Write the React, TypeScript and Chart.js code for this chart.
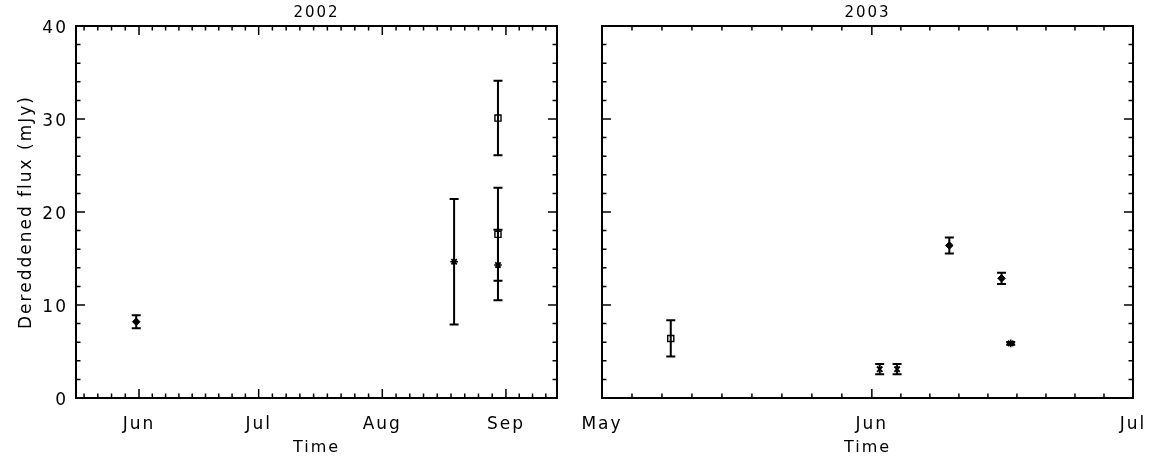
import React, { useEffect, useRef } from 'react';
import { Chart, registerables } from 'chart.js';

Chart.register(...registerables);

const FONT = 'DejaVu Sans';

// Month bookkeeping (day-of-year, 0-based, non-leap years)
const monthNames = ['Jan', 'Feb', 'Mar', 'Apr', 'May', 'Jun', 'Jul', 'Aug', 'Sep', 'Oct', 'Nov', 'Dec'];
const monthStarts = [0, 31, 59, 90, 120, 151, 181, 212, 243, 273, 304, 334, 365];

const yMin = 0;
const yMax = 40;
const yMajorStep = 10;
const yMinorStep = 2;

// ---- 2002 panel ----
const xRange2002 = [135.2, 255.8];
const diamond2002X = [150.3];
const diamond2002Y = [8.2];
const diamond2002Err = [0.7];
const square2002X = [241.0, 241.0];
const square2002Y = [30.1, 17.6];
const square2002Err = [4.0, 5.0];
const star2002X = [230.0, 241.0];
const star2002Y = [14.65, 14.3];
const star2002Err = [6.75, 3.8];

// ---- 2003 panel ----
const xRange2003 = [120, 181];
const square2003X = [127.9];
const square2003Y = [6.4];
const square2003Err = [1.95];
const cross2003X = [151.9, 153.9];
const cross2003Y = [3.1, 3.1];
const cross2003Err = [0.55, 0.55];
const diamond2003X = [159.9, 165.9];
const diamond2003Y = [16.4, 12.87];
const diamond2003Err = [0.85, 0.6];
const star2003X = [166.95];
const star2003Y = [5.87];
const star2003Err = [0.15];

function pts(xs: number[], ys: number[], es: number[]) {
  return xs.map((x, i) => ({ x, y: ys[i], e: es[i] }));
}

function diamondSet(data: any[]) {
  return { label: 'diamond', data, pointStyle: 'rectRot', pointRadius: 3.8, backgroundColor: '#000', borderColor: '#000', borderWidth: 1 };
}
function squareSet(data: any[]) {
  return { label: 'square', data, pointStyle: 'rect', pointRadius: 4.3, backgroundColor: 'rgba(0,0,0,0)', borderColor: '#000', borderWidth: 1.4 };
}
function starSet(data: any[]) {
  return { label: 'star', data, pointStyle: 'star', pointRadius: 3.8, backgroundColor: '#000', borderColor: '#000', borderWidth: 1.7 };
}
function crossSet(data: any[]) {
  return { label: 'cross', data, pointStyle: 'crossRot', pointRadius: 3.8, backgroundColor: '#000', borderColor: '#000', borderWidth: 1.9 };
}

const spacingPlugin = {
  id: 'spacing',
  beforeUpdate(chart: any) {
    chart.ctx.letterSpacing = '2px';
  },
  beforeDraw(chart: any) {
    chart.ctx.letterSpacing = '2px';
  },
};

const errorBarPlugin = {
  id: 'errorBars',
  beforeDatasetsDraw(chart: any) {
    const { ctx, scales } = chart;
    const xs = scales.x;
    const ys = scales.y;
    ctx.save();
    ctx.strokeStyle = '#000';
    ctx.lineWidth = 2;
    ctx.lineCap = 'butt';
    chart.data.datasets.forEach((ds: any) => {
      ds.data.forEach((p: any) => {
        if (!p.e) return;
        const px = xs.getPixelForValue(p.x);
        const top = ys.getPixelForValue(p.y + p.e);
        const bot = ys.getPixelForValue(p.y - p.e);
        const cap = 4.5;
        ctx.beginPath();
        ctx.moveTo(px, top);
        ctx.lineTo(px, bot);
        ctx.moveTo(px - cap, top);
        ctx.lineTo(px + cap, top);
        ctx.moveTo(px - cap, bot);
        ctx.lineTo(px + cap, bot);
        ctx.stroke();
      });
    });
    ctx.restore();
  },
};

const framePlugin = {
  id: 'frame',
  afterDatasetsDraw(chart: any) {
    const { ctx, chartArea, scales } = chart;
    const { left, right, top, bottom } = chartArea;
    const xs = scales.x;
    const ys = scales.y;
    const MAJOR = 9;
    const MINOR = 4.5;
    ctx.save();
    ctx.strokeStyle = '#000';
    ctx.lineWidth = 1.5;
    ctx.beginPath();
    for (let v = yMin; v <= yMax + 1e-9; v += yMinorStep) {
      const py = ys.getPixelForValue(v);
      const len = Math.abs(v % yMajorStep) < 1e-9 ? MAJOR : MINOR;
      ctx.moveTo(left, py);
      ctx.lineTo(left + len, py);
      ctx.moveTo(right, py);
      ctx.lineTo(right - len, py);
    }
    for (let i = 0; i < monthStarts.length - 1; i++) {
      const a = monthStarts[i];
      const b = monthStarts[i + 1];
      for (let k = 0; k < 9; k++) {
        const v = a + ((b - a) * k) / 9;
        if (v < xs.min - 1e-6 || v > xs.max + 1e-6) continue;
        const px = xs.getPixelForValue(v);
        const len = k === 0 ? MAJOR : MINOR;
        ctx.moveTo(px, bottom);
        ctx.lineTo(px, bottom - len);
        ctx.moveTo(px, top);
        ctx.lineTo(px, top + len);
      }
    }
    ctx.stroke();
    ctx.lineWidth = 2;
    ctx.strokeRect(left, top, right - left, bottom - top);
    ctx.restore();
  },
};

function buildConfig(p: any) {
  return {
    type: 'scatter',
    data: { datasets: p.datasets },
    options: {
      responsive: false,
      animation: false,
      events: [],
      layout: { padding: { left: 0, right: p.rightPad, top: 0, bottom: 0 } },
      plugins: {
        legend: { display: false },
        tooltip: { enabled: false },
        title: {
          display: true,
          text: p.title,
          fullSize: false,
          color: '#000',
          font: { family: FONT, size: 15, weight: 'normal' },
          padding: { top: 4, bottom: 4 },
        },
      },
      scales: {
        x: {
          type: 'linear',
          min: p.xMin,
          max: p.xMax,
          grid: { display: false, drawTicks: false },
          border: { display: false },
          ticks: {
            color: '#000',
            font: { family: FONT, size: 17 },
            padding: 16,
            maxRotation: 0,
            autoSkip: false,
            callback: (value: any) => {
              const idx = monthStarts.indexOf(Number(value));
              return idx >= 0 ? monthNames[idx % 12] : '';
            },
          },
          afterBuildTicks: (scale: any) => {
            scale.ticks = monthStarts
              .filter((v) => v >= scale.min - 1e-9 && v <= scale.max + 1e-9)
              .map((v) => ({ value: v }));
          },
          afterFit: (scale: any) => {
            scale.height = 63;
            scale.paddingLeft = 0;
            scale.paddingRight = 0;
          },
          title: {
            display: true,
            text: 'Time',
            color: '#000',
            font: { family: FONT, size: 16 },
            padding: { top: 0, bottom: 4 },
          },
        },
        y: {
          type: 'linear',
          min: yMin,
          max: yMax,
          grid: { display: false, drawTicks: false },
          border: { display: false },
          ticks: {
            display: p.showYLabels,
            stepSize: yMajorStep,
            color: '#000',
            font: { family: FONT, size: 17 },
            padding: 8,
            labelOffset: 2.5,
          },
          afterFit: (scale: any) => {
            scale.width = p.yWidth;
            scale.paddingTop = 0;
            scale.paddingBottom = 0;
          },
          title: {
            display: p.showYLabels,
            text: 'Dereddened flux (mJy)',
            color: '#000',
            font: { family: FONT, size: 17 },
            padding: { top: 16, bottom: 0 },
          },
        },
      },
    },
    plugins: [spacingPlugin, errorBarPlugin, framePlugin],
  };
}

function Panel(props: any) {
  const ref = useRef<HTMLCanvasElement | null>(null);
  useEffect(() => {
    if (!ref.current) return;
    const chart = new Chart(ref.current, buildConfig(props) as any);
    return () => chart.destroy();
  }, []);
  return (
    <canvas
      ref={ref}
      width={props.width}
      height={461}
      style={{ position: 'absolute', left: props.left, top: 0, width: props.width, height: 461 }}
    />
  );
}

export default function App() {
  const ds2002 = [
    diamondSet(pts(diamond2002X, diamond2002Y, diamond2002Err)),
    squareSet(pts(square2002X, square2002Y, square2002Err)),
    starSet(pts(star2002X, star2002Y, star2002Err)),
  ];
  const ds2003 = [
    squareSet(pts(square2003X, square2003Y, square2003Err)),
    crossSet(pts(cross2003X, cross2003Y, cross2003Err)),
    diamondSet(pts(diamond2003X, diamond2003Y, diamond2003Err)),
    starSet(pts(star2003X, star2003Y, star2003Err)),
  ];
  return (
    <div style={{ position: 'absolute', left: 0, top: 0, width: 1154, height: 461, background: '#fff', overflow: 'hidden' }}>
      <Panel
        title="2002"
        xMin={xRange2002[0]}
        xMax={xRange2002[1]}
        datasets={ds2002}
        showYLabels={true}
        yWidth={76}
        rightPad={20}
        left={0}
        width={577}
      />
      <Panel
        title="2003"
        xMin={xRange2003[0]}
        xMax={xRange2003[1]}
        datasets={ds2003}
        showYLabels={false}
        yWidth={25}
        rightPad={21}
        left={577}
        width={577}
      />
    </div>
  );
}
